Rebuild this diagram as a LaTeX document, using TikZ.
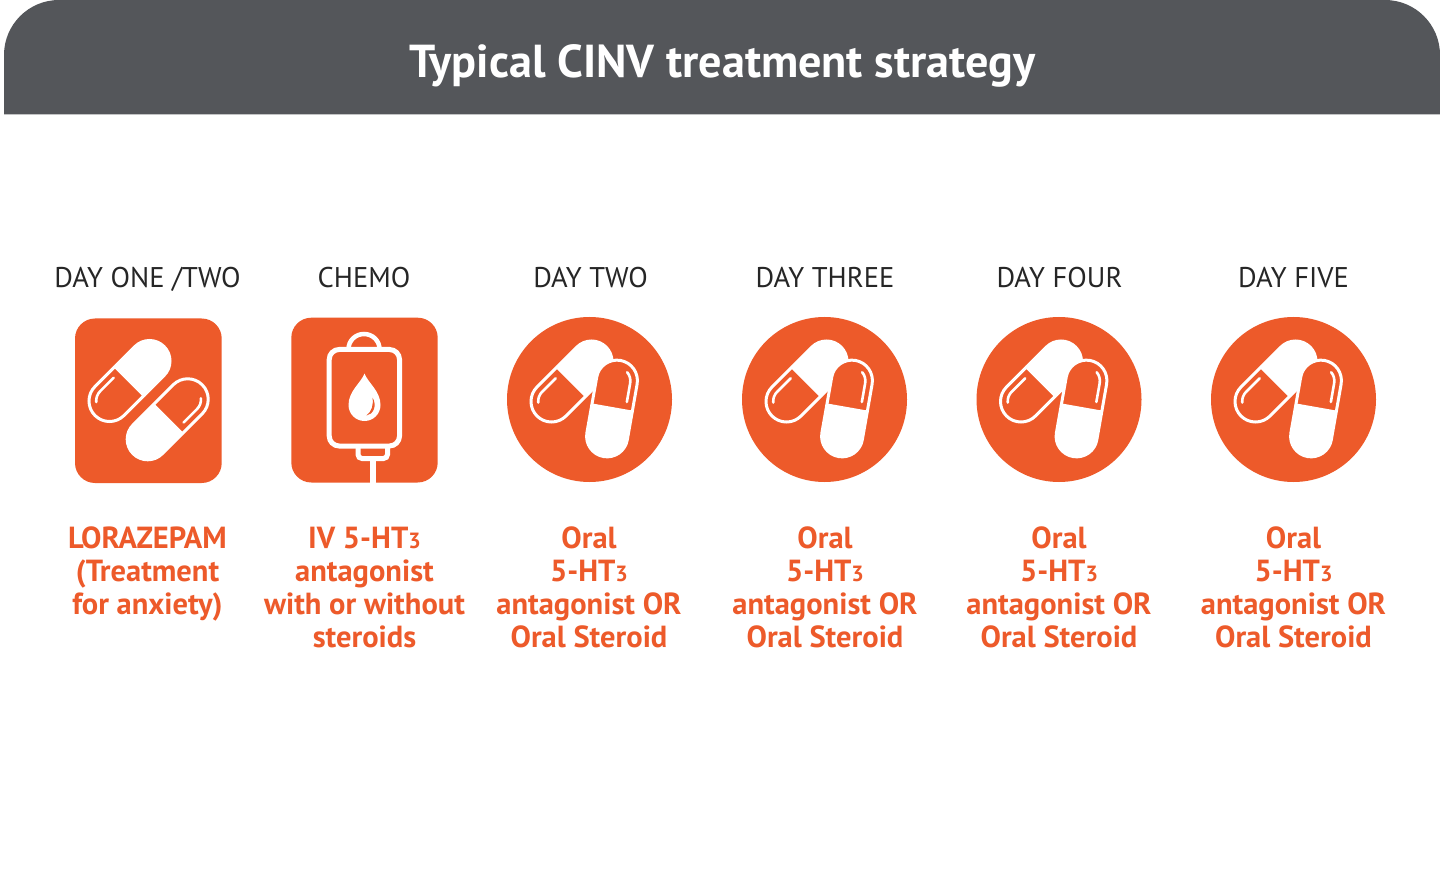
\documentclass[tikz,border=0pt]{standalone}
\usepackage{fontspec}
\setmainfont{PT Sans}
\definecolor{cinvorange}{HTML}{ED5A2A}
\definecolor{cinvgrey}{HTML}{54565A}
\tikzset{
  x=1pt,y=1pt,
  daylabel/.style={text=black!85,font=\fontsize{28.5}{33}\selectfont,inner sep=0pt,anchor=base},
  druglabel/.style={text=cinvorange,font=\fontsize{30.5}{33}\selectfont\bfseries,align=center,inner sep=0pt,anchor=north},
  icon/.style={fill=cinvorange,draw=none},
  capline/.style={draw=white,line width=3pt,line join=round},
  caphigh/.style={draw=white,line width=2.6pt,line cap=round},
}
\newcommand{\subthree}{{\fontsize{22}{22}\selectfont 3}}
\newcommand{\cinvcapsule}[3]{%
  \begin{scope}[shift={(#1,#2)},rotate=#3]
    \fill[white] (0,-22) -- (28.3,-22) arc (-90:90:22) -- (0,22) -- cycle;
    \filldraw[capline,fill=cinvorange] (0,20.5) -- (-28.3,20.5) arc (90:270:20.5) -- (0,-20.5) -- cycle;
    \draw[caphigh] (-9,13.5) -- (-28,13.5) arc (90:140:13.5);
  \end{scope}}
\newcommand{\cinvtwopills}[1]{%
  \fill[icon] (#1,-399.5) circle (82.5);
  \cinvcapsule{#1-18}{-381.5}{45}
  \cinvcapsule{#1+22.5}{-408.5}{260}}
\begin{document}
\begin{tikzpicture}
\useasboundingbox (0,0) rectangle (1440,-882);
\fill[white] (0,0) rectangle (1440,-882);
% header
\fill[cinvgrey] (4,-114.5) -- (4,-55) arc (180:90:55) -- (1385,0) arc (90:0:55) -- (1440,-114.5) -- cycle;
\node[text=white,font=\fontsize{46.2}{50}\selectfont\bfseries,inner sep=0pt,anchor=base] (title) at (722.5,-78) {Typical CINV treatment strategy};
% day labels
\node[daylabel] (d1) at (147.5,-288) {DAY ONE /TWO};
\node[daylabel] (d2) at (364,-288) {CHEMO};
\node[daylabel] (d3) at (590.5,-288) {DAY TWO};
\node[daylabel] (d4) at (825,-288) {DAY THREE};
\node[daylabel] (d5) at (1059.5,-288) {DAY FOUR};
\node[daylabel] (d6) at (1293.5,-288) {DAY FIVE};
% icon 1
\fill[icon,rounded corners=20pt] (75,-318.5) rectangle (221.7,-483);
\cinvcapsule{129.5}{-381}{45}
\cinvcapsule{167.7}{-419.3}{225}
% icon 2
\fill[icon,rounded corners=20pt] (291.3,-317.7) rectangle (437.7,-482.5);
\begin{scope}
  \draw[white,line width=5pt,rounded corners=10pt] (329.2,-349.5) rectangle (399.5,-446);
  \draw[white,line width=4.5pt] (348.5,-349) arc (180:0:15.5 and 15);
  \draw[white,line width=5pt,rounded corners=4pt] (358,-447) -- (358,-458.5) -- (387.5,-458.5) -- (387.5,-447);
  \draw[white,line width=5.5pt] (372.8,-458) -- (372.8,-482.5);
  \fill[white] (364.5,-373.5) .. controls (361,-383) and (348.5,-391) .. (348.5,-405) arc (180:360:16) .. controls (380.5,-391) and (368,-383) .. (364.5,-373.5) -- cycle;
  \fill[cinvorange] (372.5,-397.5) .. controls (373.5,-405) and (372,-411) .. (366.5,-415.5) .. controls (373,-414.5) and (377.5,-406) .. (372.5,-397.5) -- cycle;
\end{scope}
% icons 3-6
\cinvtwopills{589.5}
\cinvtwopills{824.5}
\cinvtwopills{1059}
\cinvtwopills{1293.5}
% drug labels
\node[druglabel] (l1) at (147.5,-527) {LORAZEPAM\\(Treatment\\for anxiety)};
\node[druglabel] (l2) at (364.5,-527) {IV 5-HT\subthree\\antagonist\\with or without\\steroids};
\node[druglabel] (l3) at (589,-527) {Oral\\5-HT\subthree\\antagonist OR\\Oral Steroid};
\node[druglabel] (l4) at (825,-527) {Oral\\5-HT\subthree\\antagonist OR\\Oral Steroid};
\node[druglabel] (l5) at (1059,-527) {Oral\\5-HT\subthree\\antagonist OR\\Oral Steroid};
\node[druglabel] (l6) at (1293.5,-527) {Oral\\5-HT\subthree\\antagonist OR\\Oral Steroid};
\end{tikzpicture}
\end{document}
